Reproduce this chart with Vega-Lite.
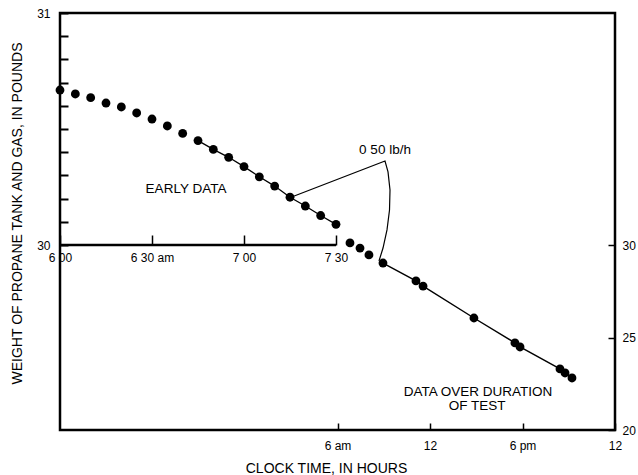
{
  "$schema": "https://vega.github.io/schema/vega-lite/v6.json",
  "width": 555,
  "height": 417,
  "autosize": "none",
  "padding": {"left": 60, "top": 13, "right": 23, "bottom": 45},
  "background": "white",
  "config": {
    "view": {"stroke": "black", "strokeWidth": 2.5},
    "font": "Liberation Sans",
    "axis": {
      "domain": false,
      "grid": false,
      "tickColor": "black",
      "labelColor": "black",
      "titleColor": "black",
      "labelFontSize": 12,
      "titleFontSize": 14,
      "titleFontWeight": "normal",
      "labelFlush": false,
      "labelOverlap": false,
      "labelBound": false
    }
  },
  "datasets": {
    "inset": [
      {"minute": 0, "weight": 30.668},
      {"minute": 5, "weight": 30.651},
      {"minute": 10, "weight": 30.635},
      {"minute": 15, "weight": 30.612},
      {"minute": 20, "weight": 30.595},
      {"minute": 25, "weight": 30.569},
      {"minute": 30, "weight": 30.543},
      {"minute": 35, "weight": 30.513},
      {"minute": 40, "weight": 30.481},
      {"minute": 45, "weight": 30.45},
      {"minute": 50, "weight": 30.412},
      {"minute": 55, "weight": 30.378},
      {"minute": 60, "weight": 30.338},
      {"minute": 65, "weight": 30.294},
      {"minute": 70, "weight": 30.254},
      {"minute": 75, "weight": 30.206},
      {"minute": 80, "weight": 30.168},
      {"minute": 85, "weight": 30.127},
      {"minute": 90, "weight": 30.089}
    ],
    "main": [
      {"hour": 18.81, "weight": 30.14},
      {"hour": 19.46, "weight": 29.86},
      {"hour": 20.04, "weight": 29.49},
      {"hour": 20.95, "weight": 29.05},
      {"hour": 23.09, "weight": 28.08},
      {"hour": 23.55, "weight": 27.8},
      {"hour": 26.85, "weight": 26.07},
      {"hour": 29.51, "weight": 24.72},
      {"hour": 29.84, "weight": 24.5},
      {"hour": 32.43, "weight": 23.31},
      {"hour": 32.76, "weight": 23.09},
      {"hour": 33.21, "weight": 22.82}
    ],
    "pointer": [
      {"i": 1, "minute": 75.33, "weight": 30.206},
      {"i": 2, "minute": 105.98, "weight": 30.362},
      {"i": 3, "minute": 106.96, "weight": 30.315},
      {"i": 4, "minute": 107.61, "weight": 30.237},
      {"i": 5, "minute": 107.45, "weight": 30.151},
      {"i": 6, "minute": 106.63, "weight": 30.065},
      {"i": 7, "minute": 105.33, "weight": 29.987},
      {"i": 8, "minute": 104.02, "weight": 29.931}
    ],
    "insetLabels": [
      {"minute": 41.09, "weight": 30.241, "label": "EARLY DATA"},
      {"minute": 105.98, "weight": 30.409, "label": "0 50 lb/h"}
    ],
    "mainLabels": [
      {"hour": 27.11, "weight": 22.06, "label": "DATA OVER DURATION"},
      {"hour": 27.05, "weight": 21.3, "label": "OF TEST"}
    ],
    "insetBase": [
      {"minute": 0, "minute2": 90, "weight": 30}
    ]
  },
  "layer": [
    {
      "data": {"name": "insetBase"},
      "mark": {"type": "rule", "color": "black", "strokeWidth": 2.5},
      "encoding": {
        "x": {"field": "minute", "type": "quantitative", "scale": {"domain": [0, 180.978], "nice": false, "zero": false}, "axis": null},
        "x2": {"field": "minute2"},
        "y": {"field": "weight", "type": "quantitative", "scale": {"domain": [29.2026, 31], "nice": false, "zero": false}, "axis": null}
      }
    },
    {
      "data": {"name": "inset"},
      "transform": [{"filter": "datum.minute >= 45"}],
      "mark": {"type": "line", "color": "black", "strokeWidth": 1.3},
      "encoding": {
        "x": {"field": "minute", "type": "quantitative", "scale": {"domain": [0, 180.978], "nice": false, "zero": false}, "axis": null},
        "y": {"field": "weight", "type": "quantitative", "scale": {"domain": [29.2026, 31], "nice": false, "zero": false}, "axis": null}
      }
    },
    {
      "data": {"name": "pointer"},
      "mark": {"type": "line", "color": "black", "strokeWidth": 1.2},
      "encoding": {
        "x": {"field": "minute", "type": "quantitative", "scale": {"domain": [0, 180.978], "nice": false, "zero": false}, "axis": null},
        "y": {"field": "weight", "type": "quantitative", "scale": {"domain": [29.2026, 31], "nice": false, "zero": false}, "axis": null},
        "order": {"field": "i", "type": "quantitative"}
      }
    },
    {
      "data": {"name": "insetLabels"},
      "mark": {"type": "text", "color": "black", "fontSize": 13.5, "align": "center", "baseline": "middle"},
      "encoding": {
        "x": {"field": "minute", "type": "quantitative", "scale": {"domain": [0, 180.978], "nice": false, "zero": false}, "axis": null},
        "y": {"field": "weight", "type": "quantitative", "scale": {"domain": [29.2026, 31], "nice": false, "zero": false}, "axis": null},
        "text": {"field": "label", "type": "nominal"}
      }
    },
    {
      "data": {"name": "inset"},
      "mark": {"type": "circle", "color": "black", "opacity": 1, "size": 78},
      "encoding": {
        "x": {
          "field": "minute", "type": "quantitative",
          "scale": {"domain": [0, 180.978], "nice": false, "zero": false},
          "axis": {
            "orient": "bottom",
            "offset": -185,
            "values": [0, 30, 60, 90],
            "labelExpr": "datum.value == 0 ? '6 00' : datum.value == 30 ? '6 30 am' : datum.value == 60 ? '7 00' : '7 30'",
            "tickSize": -10,
            "tickWidth": 1.5,
            "labelPadding": 17,
            "title": null
          }
        },
        "y": {
          "field": "weight", "type": "quantitative",
          "scale": {"domain": [29.2026, 31], "nice": false, "zero": false},
          "axis": {
            "orient": "left",
            "values": [30, 30.1, 30.2, 30.3, 30.4, 30.5, 30.6, 30.7, 30.8, 30.9, 31],
            "labelExpr": "datum.value == 30 ? '30' : datum.value == 31 ? '31' : ''",
            "tickSize": -8,
            "tickWidth": 2,
            "labelPadding": 18,
            "labelBaseline": "middle",
            "title": "WEIGHT OF PROPANE TANK AND GAS, IN POUNDS",
            "titleX": -43,
            "titleY": 200,
            "titleAngle": -90,
            "titleAlign": "center",
            "titleBaseline": "middle"
          }
        }
      }
    },
    {
      "data": {"name": "main"},
      "transform": [{"filter": "datum.hour >= 20.9"}],
      "mark": {"type": "line", "color": "black", "strokeWidth": 1.4},
      "encoding": {
        "x": {"field": "hour", "type": "quantitative", "scale": {"domain": [0, 36], "nice": false, "zero": false}, "axis": null},
        "y": {"field": "weight", "type": "quantitative", "scale": {"domain": [20, 42.6], "nice": false, "zero": false}, "axis": null}
      }
    },
    {
      "data": {"name": "mainLabels"},
      "mark": {"type": "text", "color": "black", "fontSize": 13.5, "align": "center", "baseline": "middle"},
      "encoding": {
        "x": {"field": "hour", "type": "quantitative", "scale": {"domain": [0, 36], "nice": false, "zero": false}, "axis": null},
        "y": {"field": "weight", "type": "quantitative", "scale": {"domain": [20, 42.6], "nice": false, "zero": false}, "axis": null},
        "text": {"field": "label", "type": "nominal"}
      }
    },
    {
      "data": {"name": "main"},
      "mark": {"type": "circle", "color": "black", "opacity": 1, "size": 78},
      "encoding": {
        "x": {
          "field": "hour", "type": "quantitative",
          "scale": {"domain": [0, 36], "nice": false, "zero": false},
          "axis": {
            "orient": "bottom",
            "values": [18, 24, 30, 36],
            "labelExpr": "datum.value == 18 ? '6 am' : datum.value == 24 ? '12' : datum.value == 30 ? '6 pm' : '12'",
            "tickSize": -7,
            "tickWidth": 1.5,
            "labelPadding": 17,
            "title": "CLOCK TIME, IN HOURS",
            "titleX": 266,
            "titleY": 38,
            "titleAlign": "center",
            "titleBaseline": "middle"
          }
        },
        "y": {
          "field": "weight", "type": "quantitative",
          "scale": {"domain": [20, 42.6], "nice": false, "zero": false},
          "axis": {
            "orient": "right",
            "values": [20, 25, 30],
            "tickSize": -7,
            "tickWidth": 1.5,
            "labelPadding": 14,
            "labelAlign": "left",
            "labelBaseline": "middle",
            "title": null
          }
        }
      }
    }
  ],
  "resolve": {
    "scale": {"x": "independent", "y": "independent"},
    "axis": {"x": "independent", "y": "independent"}
  }
}
